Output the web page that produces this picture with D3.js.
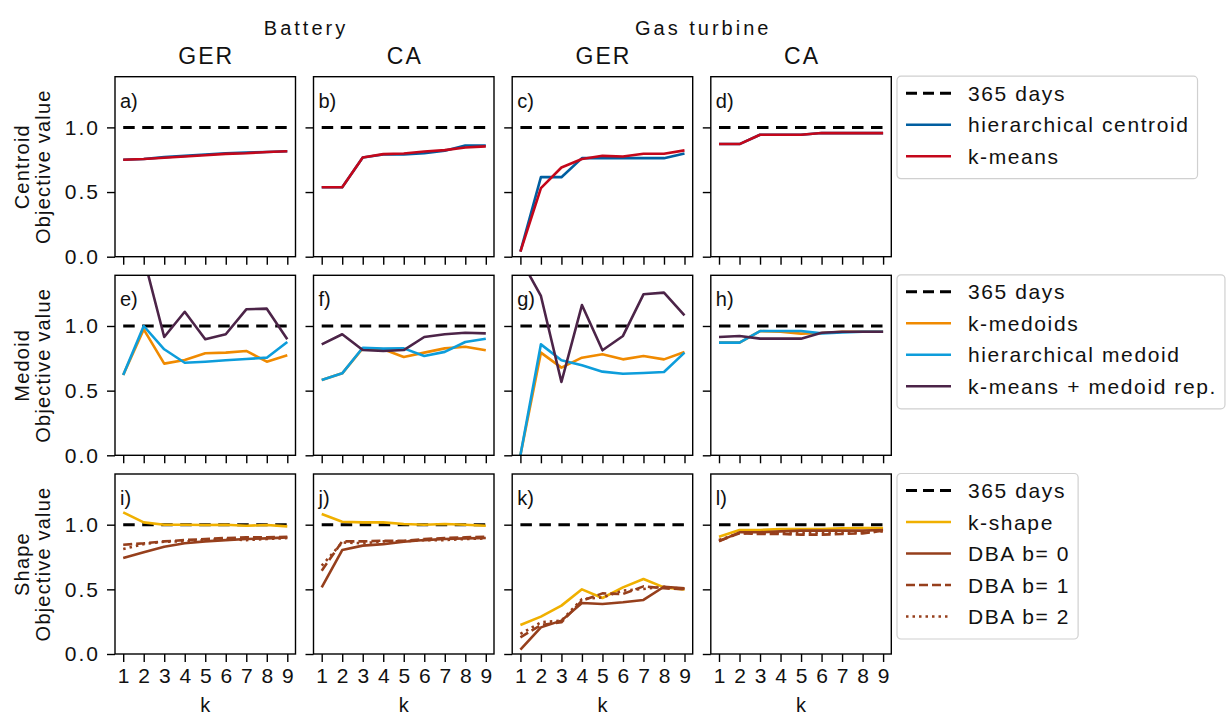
<!DOCTYPE html>
<html lang="en">
  <head>
    <meta charset="utf-8">
    <title>Objective value vs k</title>
    <style>
      body { margin: 0; background: #fff; }
      svg text { font-family: 'Liberation Sans', Arial, sans-serif; fill: #111; }
    </style>
  </head>
  <body>
    <svg width="1231" height="715"></svg>
    <script src="https://cdn.jsdelivr.net/npm/d3@7"></script>
    <script>
      // ---- data ----
      const kValues = [1, 2, 3, 4, 5, 6, 7, 8, 9];
      const groupTitles = ['Battery', 'Gas turbine'];
      const colTitles = ['GER', 'CA', 'GER', 'CA'];
      const rowTitles = ['Centroid', 'Medoid', 'Shape'];
      const panelLabels = ['a)', 'b)', 'c)', 'd)', 'e)', 'f)', 'g)', 'h)', 'i)', 'j)', 'k)', 'l)'];
      const yTicks = [0.0, 0.5, 1.0];
      const fullYear = 1.0;  // 365 days reference

      // centroid row, one array per panel column (GER bat, CA bat, GER gas, CA gas)
      const hierCentroid = [
        [0.75, 0.755, 0.77, 0.78, 0.79, 0.80, 0.805, 0.81, 0.815],
        [0.537, 0.537, 0.767, 0.79, 0.79, 0.80, 0.82, 0.86, 0.86],
        [0.039, 0.615, 0.615, 0.762, 0.762, 0.762, 0.762, 0.762, 0.798],
        [0.871, 0.871, 0.943, 0.943, 0.943, 0.956, 0.956, 0.956, 0.956]
      ];
      const kMeans = [
        [0.75, 0.755, 0.765, 0.775, 0.785, 0.795, 0.80, 0.81, 0.815],
        [0.537, 0.537, 0.767, 0.793, 0.798, 0.814, 0.824, 0.845, 0.853],
        [0.04, 0.53, 0.69, 0.755, 0.78, 0.775, 0.796, 0.796, 0.822],
        [0.871, 0.871, 0.943, 0.943, 0.943, 0.956, 0.956, 0.956, 0.956]
      ];

      // medoid row
      const kMedoids = [
        [0.621, 0.974, 0.709, 0.737, 0.789, 0.794, 0.807, 0.724, 0.773],
        [0.582, 0.634, 0.827, 0.82, 0.76, 0.794, 0.827, 0.84, 0.812],
        [0.0, 0.794, 0.678, 0.755, 0.781, 0.742, 0.768, 0.742, 0.799],
        [0.871, 0.871, 0.961, 0.955, 0.941, 0.946, 0.955, 0.955, 0.955]
      ];
      const hierMedoid = [
        [0.621, 1.0, 0.82, 0.716, 0.724, 0.735, 0.745, 0.755, 0.876],
        [0.582, 0.634, 0.832, 0.825, 0.827, 0.768, 0.80, 0.876, 0.902],
        [0.0, 0.858, 0.735, 0.696, 0.647, 0.631, 0.637, 0.644, 0.794],
        [0.871, 0.871, 0.961, 0.961, 0.961, 0.943, 0.95, 0.955, 0.955]
      ];
      const kMeansMedoid = [
        [1.9, 1.53, 0.915, 1.11, 0.897, 0.936, 1.129, 1.134, 0.897],
        [0.858, 0.936, 0.814, 0.807, 0.814, 0.915, 0.936, 0.948, 0.943],
        [1.52, 1.232, 0.567, 1.162, 0.812, 0.923, 1.245, 1.258, 1.082],
        [0.915, 0.923, 0.902, 0.902, 0.902, 0.948, 0.956, 0.956, 0.956]
      ];

      // shape row
      const kShape = [
        [1.095, 1.018, 1.0, 1.0, 0.998, 1.0, 0.992, 0.998, 0.987],
        [1.082, 1.023, 1.018, 1.018, 1.005, 1.0, 1.005, 1.0, 0.992],
        [0.224, 0.289, 0.374, 0.5, 0.433, 0.515, 0.58, 0.515, 0.5],
        [0.907, 0.959, 0.959, 0.966, 0.966, 0.966, 0.972, 0.974, 0.974]
      ];
      const dbaB0 = [
        [0.742, 0.786, 0.83, 0.856, 0.871, 0.881, 0.889, 0.894, 0.902],
        [0.515, 0.804, 0.838, 0.85, 0.868, 0.881, 0.889, 0.894, 0.897],
        [0.034, 0.206, 0.258, 0.394, 0.387, 0.40, 0.418, 0.52, 0.508],
        [0.871, 0.941, 0.941, 0.948, 0.954, 0.954, 0.954, 0.954, 0.959]
      ];
      const dbaB1 = [
        [0.845, 0.856, 0.871, 0.881, 0.889, 0.897, 0.902, 0.902, 0.907],
        [0.644, 0.871, 0.871, 0.876, 0.876, 0.889, 0.897, 0.902, 0.907],
        [0.129, 0.224, 0.245, 0.412, 0.469, 0.464, 0.523, 0.508, 0.5],
        [0.876, 0.933, 0.928, 0.928, 0.923, 0.923, 0.928, 0.933, 0.954]
      ];
      const dbaB2 = [
        [0.812, 0.85, 0.868, 0.871, 0.881, 0.889, 0.881, 0.889, 0.897],
        [0.683, 0.863, 0.856, 0.871, 0.871, 0.881, 0.881, 0.889, 0.894],
        [0.155, 0.245, 0.258, 0.425, 0.438, 0.49, 0.503, 0.52, 0.503],
        [0.881, 0.935, 0.933, 0.935, 0.935, 0.938, 0.938, 0.94, 0.948]
      ];

      // series per row: label, values, color, dash
      const rowSeries = [
        [
          {name: 'hierarchical centroid', values: hierCentroid, color: '#005ea0', dash: null},
          {name: 'k-means', values: kMeans, color: '#c4071b', dash: null}
        ],
        [
          {name: 'k-medoids', values: kMedoids, color: '#f08a00', dash: null},
          {name: 'hierarchical medoid', values: hierMedoid, color: '#0d9ddb', dash: null},
          {name: 'k-means +  medoid rep.', values: kMeansMedoid, color: '#4c2448', dash: null}
        ],
        [
          {name: 'k-shape', values: kShape, color: '#f0b000', dash: null},
          {name: 'DBA b= 0', values: dbaB0, color: '#963f1c', dash: null},
          {name: 'DBA b= 1', values: dbaB1, color: '#963f1c', dash: '9,4'},
          {name: 'DBA b= 2', values: dbaB2, color: '#963f1c', dash: '2.5,4'}
        ]
      ];

      // ---- layout ----
      const svg = d3.select('svg');
      const panel_w = 180.5;
      const panel_h = 180;
      const col_x = [115, 313.5, 512.2, 710.8];
      const row_y = [76.7, 275.3, 474];
      const lw = 2.6;

      const x_scale = d3.scaleLinear()
        .domain([0.6, 9.4])
        .range([0, panel_w]);
      const y_scale = d3.scaleLinear()
        .domain([0, 1.392])
        .range([panel_h, 0]);

      const line_gen = d3.line()
        .x((d, i) => x_scale(kValues[i]))
        .y(d => y_scale(d));

      // column titles
      groupTitles.forEach((t, g) => {
        const cx = (col_x[g * 2] + col_x[g * 2 + 1] + panel_w) / 2;
        svg.append('text')
          .attr('x', cx + 1.5).attr('y', 35)
          .attr('text-anchor', 'middle')
          .attr('font-size', '20px')
          .attr('letter-spacing', '3px')
          .text(t);
      });
      colTitles.forEach((t, c) => {
        svg.append('text')
          .attr('x', col_x[c] + panel_w / 2 + 1).attr('y', 63.5)
          .attr('text-anchor', 'middle')
          .attr('font-size', '23px')
          .attr('letter-spacing', '2px')
          .text(t);
      });

      rowSeries.forEach((series, r) => {
        // row title (two lines, rotated)
        const cy = row_y[r] + panel_h / 2;
        svg.append('text')
          .attr('transform', `translate(29, ${cy}) rotate(-90)`)
          .attr('text-anchor', 'middle')
          .attr('font-size', '20px')
          .attr('letter-spacing', '1.2px')
          .text(rowTitles[r]);
        svg.append('text')
          .attr('transform', `translate(50, ${cy}) rotate(-90)`)
          .attr('text-anchor', 'middle')
          .attr('font-size', '20px')
          .attr('letter-spacing', '1.2px')
          .text('Objective value');

        colTitles.forEach((ct, c) => {
          const g = svg.append('g')
            .attr('transform', `translate(${col_x[c]}, ${row_y[r]})`);

          const clip_id = `clip_${r}_${c}`;
          g.append('clipPath').attr('id', clip_id)
            .append('rect')
            .attr('width', panel_w).attr('height', panel_h);

          // axes
          const yAxis = d3.axisLeft(y_scale)
            .tickValues(yTicks)
            .tickSize(8).tickPadding(7)
            .tickFormat(c === 0 ? d3.format('.1f') : '');
          const y_axis_g = g.append('g').call(yAxis);

          const xAxis = d3.axisBottom(x_scale)
            .tickValues(kValues)
            .tickSize(8).tickPadding(6)
            .tickFormat(r === 2 ? d3.format('d') : '');
          const x_axis_g = g.append('g')
            .attr('transform', `translate(0, ${panel_h})`)
            .call(xAxis);

          [y_axis_g, x_axis_g].forEach(a => {
            a.select('.domain').remove();
            a.selectAll('.tick line').attr('stroke', '#000').attr('stroke-width', 1.4);
            a.selectAll('.tick text')
              .attr('font-size', '21px')
              .attr('font-family', null)
              .attr('fill', '#111');
          });
          y_axis_g.selectAll('.tick text').attr('letter-spacing', '2px');

          if (r === 2) {
            g.append('text')
              .attr('x', panel_w / 2).attr('y', panel_h + 57.5)
              .attr('text-anchor', 'middle')
              .attr('font-size', '20px')
              .text('k');
          }

          const plot = g.append('g').attr('clip-path', `url(#${clip_id})`);

          // 365 days reference
          plot.append('path')
            .attr('d', line_gen(kValues.map(() => fullYear)))
            .attr('fill', 'none')
            .attr('stroke', '#000')
            .attr('stroke-width', 3)
            .attr('stroke-dasharray', '11.5,7.5');

          series.forEach(s => {
            plot.append('path')
              .attr('d', line_gen(s.values[c]))
              .attr('fill', 'none')
              .attr('stroke', s.color)
              .attr('stroke-width', lw)
              .attr('stroke-linejoin', 'round')
              .attr('stroke-dasharray', s.dash);
          });

          // frame
          g.append('rect')
            .attr('width', panel_w).attr('height', panel_h)
            .attr('fill', 'none')
            .attr('stroke', '#000')
            .attr('stroke-width', 1.4);

          g.append('text')
            .attr('x', 5).attr('y', 31)
            .attr('font-size', '20px')
            .text(panelLabels[r * 4 + c]);
        });

        // legend for the row
        const leg_x = 897;
        const leg_y = row_y[r] - 0.5;
        const leg = svg.append('g').attr('transform', `translate(${leg_x}, ${leg_y})`);
        const box = leg.append('rect')
          .attr('rx', 4).attr('ry', 4)
          .attr('fill', '#fff')
          .attr('stroke', '#d0d0d0')
          .attr('stroke-width', 1.2);
        const items = [{name: '365 days', color: '#000', dash: '11,6', w: 3}]
          .concat(series.map(s => ({name: s.name, color: s.color, dash: s.dash, w: lw})));
        let max_w = 0;
        items.forEach((it, i) => {
          const yy = 17 + i * 31.5;
          leg.append('line')
            .attr('x1', 9).attr('x2', 54)
            .attr('y1', yy).attr('y2', yy)
            .attr('stroke', it.color)
            .attr('stroke-width', it.w)
            .attr('stroke-dasharray', it.dash);
          const t = leg.append('text')
            .attr('x', 71).attr('y', yy + 7.5)
            .attr('font-size', '21px')
            .attr('letter-spacing', '1.6px')
            .text(it.name);
          max_w = Math.max(max_w, t.node().getComputedTextLength());
        });
        box.attr('width', 71 + max_w + 8)
          .attr('height', items.length * 31.5 + 8);
      });
    </script>
  </body>
</html>
